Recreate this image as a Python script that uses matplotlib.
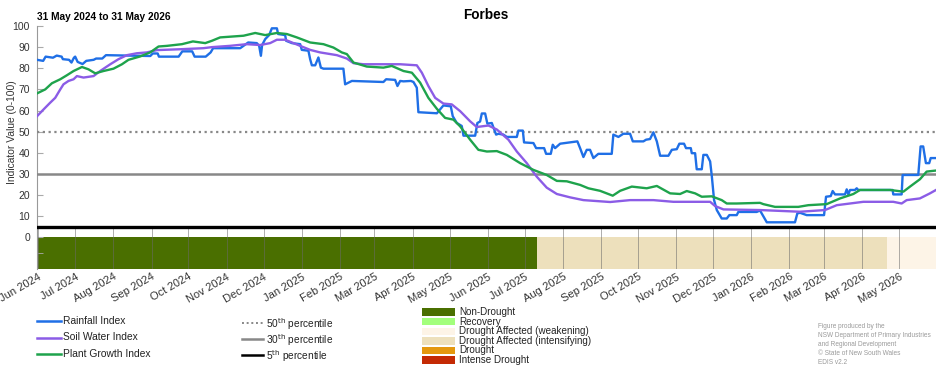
import numpy as np
import pandas as pd
import matplotlib
matplotlib.use("Agg")
import matplotlib.pyplot as plt
import matplotlib.dates as mdates
from matplotlib.lines import Line2D
from matplotlib.patches import Rectangle

plt.rcParams['font.family'] = ['Liberation Sans', 'DejaVu Sans']

START = pd.Timestamp('2024-05-31')
END = pd.Timestamp('2026-05-31')

# ---- data (days since 31 May 2024, index value) ----
rain_days = [0, 5, 7, 13, 16, 20, 21, 26, 28, 30, 31, 33, 37, 40, 46, 48, 53, 56, 73, 92, 94, 98, 99, 115,
             118, 126, 128, 137, 141, 143, 165, 171.5, 178.5, 180.4, 181.8, 182.8, 185.3, 188.5, 190.7, 194.8,
             195.8, 201.5, 202.3, 207, 213.7, 215, 220.4, 221.8, 223.2, 225.9, 228.5, 230.5, 232.6, 248.8,
             250.2, 255.7, 281.3, 283.5, 290.8, 292.7, 294.9, 297.6, 303.6, 305.7, 308.4, 309.7, 324.7, 330,
             336, 337.6, 340.9, 344.9, 346.3, 355.8, 357.6, 359.8, 361.2, 363.9, 365.7, 369.3, 372.8, 374.7,
             378.7, 381.5, 389.6, 390.9, 394.5, 395.5, 403.1, 405.3, 411.8, 413.4, 417.2, 418.8, 420.7, 424.8,
             438.8, 441, 443.7, 446.4, 449.1, 451.8, 455.8, 466.7, 468, 472.1, 476.1, 481.6, 483.8, 492.4,
             494.6, 497.8, 500.5, 503.3, 506, 512.7, 515.5, 519.5, 521.6, 525.4, 527, 530.9, 531.7, 534.4,
             535.7, 539.8, 541.1, 543.9, 546.6, 548, 549.8, 552, 556, 560.1, 562.2, 568.2, 569.5, 584.4,
             587.1, 589.8, 592.6, 615.5, 617.4, 619.6, 625, 639.1, 640.7, 644.5, 646.1, 648, 656.1, 657.5,
             658.8, 660.2, 664.2, 665.6, 666.9, 694.8, 695.3, 702.1, 702.9, 715.6, 717.5, 719.6, 721.8,
             724.5, 725.7, 730]
rain_vals = [84, 83.5, 85.5, 85, 86, 85.5, 84.3, 84, 82.7, 85, 85.5, 83, 82, 83.5, 84, 84.6, 84.6, 86.2, 86,
             85.8, 87, 87, 85.5, 85.5, 88, 88, 85.5, 85.5, 87.5, 89.5, 89.5, 92.2, 91.9, 90.6, 85.9, 91, 93.8,
             95.7, 98.9, 98.9, 96.2, 95.7, 93, 91.9, 91.4, 88.7, 88.3, 84.3, 81.4, 81.4, 85.1, 80.3, 79.8, 79.8,
             72.4, 74, 73.5, 74.8, 74.5, 71.6, 74, 73.8, 74, 73.5, 70.8, 59.2, 58.7, 62.4, 62, 57.3, 54.1, 52.7,
             48.1, 48.1, 54.1, 54.8, 58.6, 58.6, 53.8, 54.1, 48.6, 49, 48.6, 47.5, 47.5, 50.5, 50.5, 44.9,
             44.6, 42.2, 42.2, 39.5, 39.5, 43.8, 42.2, 44.3, 45.4, 42.2, 38, 41.4, 41.4, 37.5, 39.5, 39.5,
             48.6, 47.5, 49, 49, 45.4, 45.4, 46.2, 46.5, 49.7, 45.4, 38.6, 38.6, 41.4, 41.7, 44.3, 44.3, 42.2,
             42.2, 39.8, 39.8, 32.2, 32.2, 39, 39, 35.9, 28.7, 17.6, 12.9, 8.9, 8.9, 10.5, 10.5, 12, 12, 12.7,
             10, 7.1, 7.1, 11.3, 11.6, 10.5, 10.5, 19.2, 19.5, 21.9, 20.3, 20.3, 22.7, 20.3, 22.4, 22.4, 23.2,
             22.4, 22.4, 20.3, 20.3, 29.5, 29.5, 43, 43, 35.1, 35.1, 37.5, 37.5]

soil_days = [0, 5.3, 10.7, 14.8, 18.9, 21.5, 25.6, 29.7, 32.4, 37.8, 45.9, 51.3, 59.5, 66.2, 73, 81.1, 89.2,
             97.4, 116.3, 135.2, 142, 156.5, 170.4, 181.2, 189.3, 194.8, 201.5, 207, 213.7, 221.8, 229.9,
             243.5, 251.6, 257, 265.1, 294.9, 308.4, 312.5, 317.8, 323.3, 330, 336.8, 343.6, 351.7, 357.1,
             366.6, 373.4, 382.8, 389.6, 397.7, 405.8, 413.9, 422.1, 432.9, 443.7, 465.4, 481.6, 500.5,
             516.7, 546.6, 550.6, 557.4, 587.1, 619.6, 639.9, 649.4, 671, 695.3, 702.1, 706.2, 716.9,
             725.1, 730]
soil_vals = [57.3, 60.5, 63.7, 66, 70, 72.4, 74, 74.8, 76.3, 75.6, 76.3, 78.7, 81.9, 84.3, 86.2, 87.1, 87.5,
             88.6, 89, 89.5, 90, 90.6, 91.4, 91, 91.9, 93.5, 93.5, 92.2, 90.6, 88.7, 87.5, 86.2, 84.6, 82.4,
             81.9, 81.9, 81.4, 77.9, 71.6, 66, 63.3, 62.9, 59.7, 54.9, 52.2, 52.9, 51, 46.2, 40.6, 35.1,
             28.7, 23.5, 20.5, 18.9, 17.6, 16.7, 17.6, 17.6, 16.8, 16.8, 14.8, 13.2, 12.9, 12.1, 12.9, 15.2,
             16.8, 16.8, 16, 17.6, 18.4, 20.8, 22.4]

plant_days = [0, 6.7, 12.1, 18.9, 24.3, 29.7, 36.5, 41.8, 47.3, 54, 62.1, 69, 74.3, 83.8, 91.9, 98.7, 105.5,
              117.7, 126.6, 136.6, 142, 148.7, 167.7, 177.2, 185.3, 194.8, 202.9, 211, 221.8, 232.6, 240.7,
              247.5, 251.6, 257, 267.8, 281.3, 288.1, 297.6, 304.4, 311.1, 317.8, 324.7, 331.4, 338.1, 343.6,
              351.7, 358.4, 365.3, 373.4, 381.5, 392.3, 403.1, 413.9, 422.1, 430.2, 441, 447.7, 457.2,
              467.5, 473.5, 483, 495.1, 503.3, 514.1, 522.2, 527.6, 534.4, 539.8, 547.9, 556, 560.1, 568.2,
              587.1, 589.8, 599.3, 618.2, 626.3, 641.2, 652.1, 662.9, 668.3, 692.7, 703.5, 708.9, 717,
              722.4, 730]
plant_vals = [68.1, 70, 72.9, 74.8, 76.7, 78.7, 80.6, 79.5, 77.6, 78.7, 79.8, 81.9, 84, 85.6, 87.5, 90.3, 90.6,
              91.4, 92.7, 91.9, 93, 94.6, 95.4, 96.7, 95.7, 96.7, 96.2, 94.6, 92.2, 91.4, 89.8, 87.5, 86.7,
              82.7, 80.8, 80.3, 81.1, 78.7, 77.9, 73.2, 66, 60.8, 56.5, 55.7, 52.5, 46.2, 41.4, 40.6, 40.8,
              39, 35.1, 31.9, 29.5, 26.7, 26.5, 24.8, 23.2, 22, 19.7, 22, 24, 23.2, 24.3, 20.8, 20.5, 21.9,
              20.8, 19.2, 19.4, 17.6, 16, 16, 16.3, 15.7, 14.4, 14.4, 15.2, 15.7, 18.4, 20.5, 22.4, 22.4,
              21.6, 24, 27.5, 31.1, 31.6]

# drought status periods
status_starts = ['2024-05-31', '2025-07-11', '2026-04-21']
status_ends = ['2025-07-11', '2026-04-21', '2026-05-31']
status_names = ['Non-Drought', 'Drought Affected (intensifying)', 'Drought Affected (weakening)']

category_names = ['Non-Drought', 'Recovery', 'Drought Affected (weakening)',
                  'Drought Affected (intensifying)', 'Drought', 'Intense Drought']
category_colors = ['#4a6f00', '#a3ff7c', '#fdf4e7', '#ede0bc', '#e4980e', '#c42a04']
cat_color = dict(zip(category_names, category_colors))

percentiles = [50, 30, 5]
percentile_labels = [r'50$^{\mathrm{th}}$ percentile', r'30$^{\mathrm{th}}$ percentile',
                     r'5$^{\mathrm{th}}$ percentile']

series_names = ['Rainfall Index', 'Soil Water Index', 'Plant Growth Index']
series_colors = ['#1f6fe6', '#8b5ce6', '#1ea34c']


def to_dates(days):
    return START + pd.to_timedelta(np.asarray(days, dtype=float), unit='D')


W, H = 952, 370
fig = plt.figure(figsize=(W / 100, H / 100), dpi=100)
L, R, T, B = 37, 936, 26, 269
ax = fig.add_axes([L / W, 1 - B / H, (R - L) / W, (B - T) / H])
ax.set_ylim(-15, 100)
ax.set_xlim(START, END)

# status bar
for s, e, n in zip(status_starts, status_ends, status_names):
    ax.fill_between([pd.Timestamp(s), pd.Timestamp(e)], -15, 0, color=cat_color[n], lw=0, zorder=1)

# month grid lines in the lower band
months = pd.date_range('2024-06-01', '2026-05-01', freq='MS')
ax.vlines(months, -15, 5, colors='#6b6b6b', lw=0.7, alpha=0.55, zorder=2)

# percentile lines
pstyles = [dict(color='#888888', lw=1.6, ls=(0, (1, 1.6))), dict(color='#888888', lw=1.8),
           dict(color='black', lw=2.4)]
for p, st in zip(percentiles, pstyles):
    ax.axhline(p, zorder=3, **st)

series = [(rain_days, rain_vals), (soil_days, soil_vals), (plant_days, plant_vals)]
for (d, v), c in zip(series, series_colors):
    ax.plot(to_dates(d), v, color=c, lw=1.7, solid_joinstyle='round', zorder=4)

# axes styling
for sp in ['top', 'right', 'bottom']:
    ax.spines[sp].set_visible(False)
ax.spines['left'].set_color('#999999')
ax.spines['left'].set_linewidth(0.8)
ax.set_yticks(np.arange(0, 101, 10))
ax.set_yticks([-7.5], minor=True)
ax.tick_params(axis='y', which='both', direction='in', length=4, color='#aaaaaa', labelsize=7.5,
               labelcolor='#333333', pad=5)
ax.set_xticks(months)
ax.xaxis.set_major_formatter(mdates.DateFormatter('%b %Y'))
ax.tick_params(axis='x', length=0, pad=2, labelsize=8, labelcolor='#333333')
for lab in ax.get_xticklabels():
    lab.set_rotation(30)
    lab.set_ha('right')
    lab.set_rotation_mode('anchor')
ax.set_ylabel('Indicator Value (0-100)', fontsize=7.4, color='#333333')
ax.yaxis.set_label_coords(-0.022, 0.565)

fig.text(486 / W, 1 - 15 / H, 'Forbes', ha='center', va='center', fontsize=9.8, fontweight='bold')
fig.text(37 / W, 1 - 17 / H, '31 May 2024 to 31 May 2026', ha='left', va='center', fontsize=7.3,
         fontweight='bold')


# legends (drawn in figure coordinates)
def fy(py):
    return 1 - py / H


for i, (n, c) in enumerate(zip(series_names, series_colors)):
    y = fy(321 + i * 16.5)
    fig.add_artist(Line2D([37 / W, 61 / W], [y, y], color=c, lw=1.8))
    fig.text(63 / W, y, n, ha='left', va='center', fontsize=7.4, color='#222222')

lstyles = [dict(color='#888888', lw=1.4, ls=(0, (1, 1.4))), dict(color='#888888', lw=1.8),
           dict(color='black', lw=1.8)]
for i, (lab, st) in enumerate(zip(percentile_labels, lstyles)):
    y = fy(322.5 + i * 16)
    fig.add_artist(Line2D([242 / W, 263 / W], [y, y], **st))
    fig.text(266 / W, y - 1.5 / H, lab, ha='left', va='center', fontsize=7.3, color='#222222')

for i, (n, c) in enumerate(zip(category_names, category_colors)):
    yc = 312 + i * 9.6
    fig.add_artist(Rectangle((422 / W, fy(yc + 3.7)), 33 / W, 7.4 / H, facecolor=c, edgecolor='none',
                             transform=fig.transFigure))
    fig.text(459 / W, fy(yc), n, ha='left', va='center', fontsize=7.1, color='#222222')

foot = ['Figure produced by the', 'NSW Department of Primary Industries', 'and Regional Development',
        '\u00a9 State of New South Wales', 'EDIS v2.2']
for i, t in enumerate(foot):
    fig.text(818 / W, fy(327 + i * 8.8), t, ha='left', va='center', fontsize=4.7, color='#9a9a9a')

fig.savefig('out.png', dpi=100)
